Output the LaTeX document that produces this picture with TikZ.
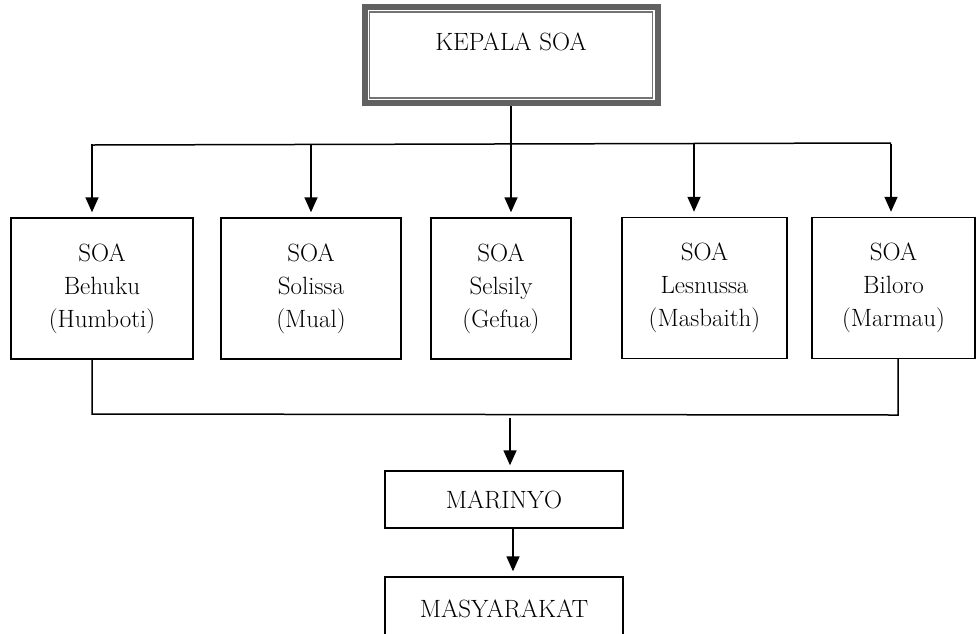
\documentclass[tikz,border=0pt]{standalone}
\usetikzlibrary{arrows.meta,calc}

\begin{document}
\begin{tikzpicture}[x=1pt,y=-1pt,
  soabox/.style={draw,line width=1.4pt,align=center,font=\fontsize{25}{33}\selectfont,inner sep=0pt},
  arr/.style={-{Triangle[width=13pt,length=15pt]},line width=1.5pt,shorten >=5pt}]
\useasboundingbox (0,0) rectangle (976,633);
\clip (0,0) rectangle (976,633);
% top box
\node[draw=black!62,line width=6pt,minimum width=293pt,minimum height=96pt,font=\fontsize{25}{33}\selectfont,text height=17pt,text depth=27pt] (kepala) at (511,55) {KEPALA SOA};
\draw[black!55,line width=1.5pt] ([shift={(8,8)}]kepala.north west) rectangle ([shift={(-8,-8)}]kepala.south east);
% soa boxes
\node[soabox,minimum width=182pt,minimum height=141pt] (soa1) at (102,288.5) {SOA\\Behuku\\(Humboti)};
\node[soabox,minimum width=180pt,minimum height=141pt] (soa2) at (311,288.5) {SOA\\Solissa\\(Mual)};
\node[soabox,minimum width=140pt,minimum height=141pt] (soa3) at (501,288.5) {SOA\\Selsily\\(Gefua)};
\node[soabox,minimum width=165pt,minimum height=141pt] (soa4) at (704.5,288) {SOA\\Lesnussa\\(Masbaith)};
\node[soabox,minimum width=163pt,minimum height=141pt] (soa5) at (893.5,288) {SOA\\Biloro\\(Marmau)};
\node[soabox,minimum width=238pt,minimum height=57pt] (marinyo) at (504,499.5) {MARINYO};
\node[soabox,minimum width=238pt,minimum height=64pt] (masyarakat) at (504,609) {MASYARAKAT};
% lines
\coordinate (busL) at (92,145);
\coordinate (busR) at (891,143);
\draw[line width=1.5pt] (busL) -- (busR);
\draw[arr] (kepala.south) -- (kepala.south |- soa3.north);
\foreach \x/\n in {92/1,311/2,694/4,891/5}
  \draw[arr] (\x,144) -- (\x,0 |- soa\n.north);
\coordinate (b1) at (92,414);
\coordinate (b5) at (898,415);
\draw[line width=1.5pt] (b1 |- soa1.south) -- (b1) -- (b5) -- (b5 |- soa5.south);
\coordinate (m) at (510,418);
\draw[arr] (m) -- (m |- marinyo.north);
\draw[arr] ([xshift=9pt]marinyo.south) -- ([xshift=9pt]masyarakat.north);
\end{tikzpicture}
\end{document}
